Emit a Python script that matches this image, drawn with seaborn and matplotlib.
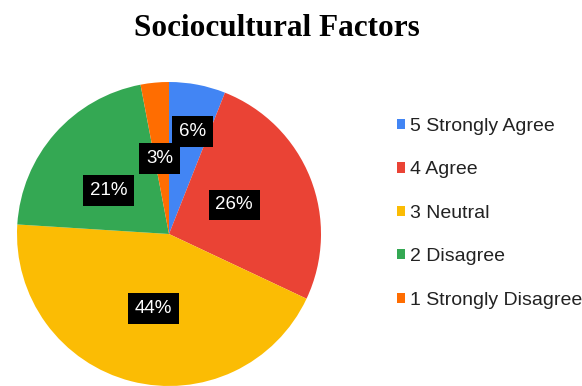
import matplotlib
matplotlib.use("Agg")
import matplotlib.pyplot as plt
import numpy as np
import seaborn as sns

# Survey responses
categories = ["5 Strongly Agree", "4 Agree", "3 Neutral", "2 Disagree", "1 Strongly Disagree"]
shares = [6, 26, 44, 21, 3]
palette = sns.color_palette(["#4285F4", "#EA4335", "#FBBC04", "#34A853", "#FF6D01"])

sns.set_theme(style="white")
plt.rcParams["font.family"] = ["Liberation Sans", "DejaVu Sans"]

W, H = 582, 386
fig = plt.figure(figsize=(W / 100, H / 100), dpi=100)
fig.patch.set_facecolor("white")

# Pie centred at (169, 234) px with radius 152 px
cx, cy, r = 169, 234, 152
ax = fig.add_axes([(cx - r) / W, (H - cy - r) / H, 2 * r / W, 2 * r / H])

wedges, texts, autotexts = ax.pie(
    shares,
    colors=palette,
    startangle=90,
    counterclock=False,
    autopct="%d%%",
    pctdistance=0.5,
    wedgeprops=dict(linewidth=0),
    textprops=dict(color="white", fontsize=13.5),
)

# Per-slice label placement (radius as fraction of pie radius, angle in degrees)
label_radius = [0.69, 0.47, 0.50, 0.49, 0.50]
label_angle = [77, 24, -102, 144, 97]
for t, rad, ang in zip(autotexts, label_radius, label_angle):
    a = np.deg2rad(ang)
    t.set_position((rad * np.cos(a), rad * np.sin(a)))
    t.set_ha("center")
    t.set_va("center")
    t.set_bbox(dict(facecolor="black", edgecolor="none", boxstyle="square,pad=0.37"))

ax.set_xlim(-1, 1)
ax.set_ylim(-1, 1)
ax.set_aspect("equal")
ax.axis("off")

fig.text(277 / W, 1 - 29 / H, "Sociocultural Factors", ha="center", va="center",
         fontsize=22.5, fontweight="bold", color="black",
         family=["Liberation Serif", "DejaVu Serif"])

leg = fig.legend(
    wedges, categories,
    loc="upper left",
    bbox_to_anchor=(397 / W, 1 - 118 / H),
    frameon=False,
    fontsize=14,
    handlelength=0.43,
    handleheight=0.43,
    handletextpad=0.26,
    labelspacing=1.36,
    borderpad=0,
    borderaxespad=0,
)
for txt in leg.get_texts():
    txt.set_color("#222222")

fig.savefig("out.png", dpi=100, facecolor="white")
